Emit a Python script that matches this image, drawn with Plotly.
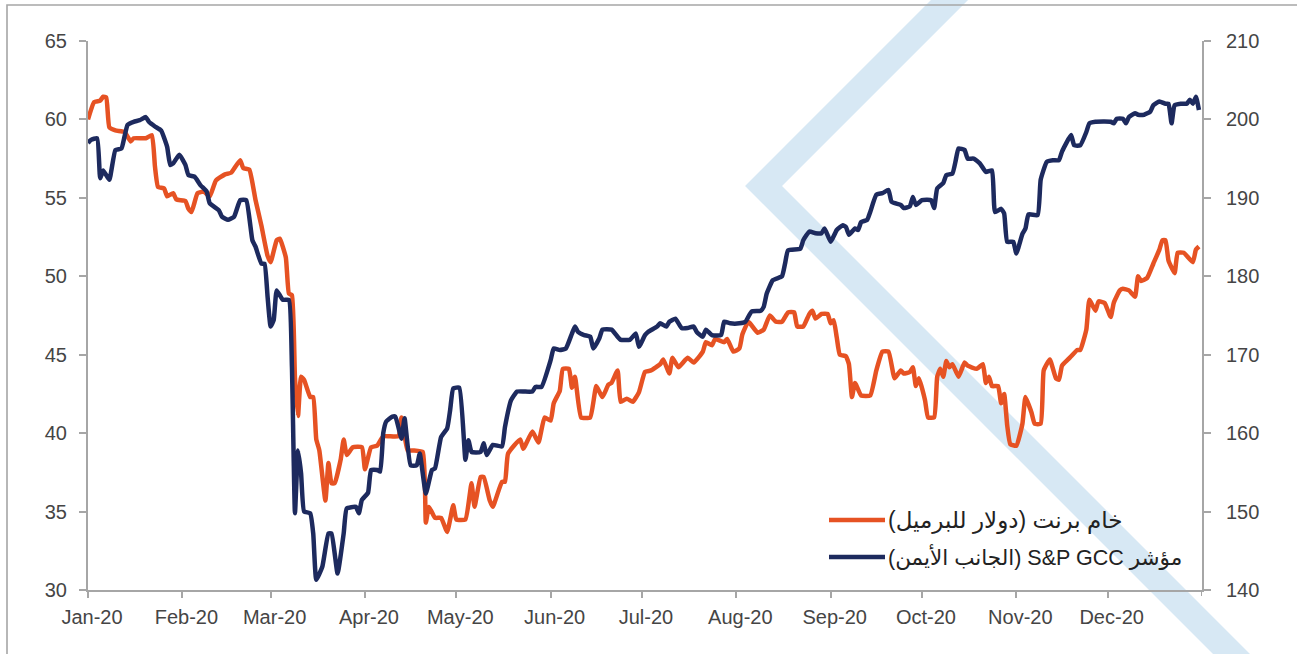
import pandas as pd
import plotly.graph_objects as go

# Brent crude (USD per barrel), sampled by day of 2020 (days since 1 Jan 2020)
brent_day = [0, 2, 4, 5, 6, 7, 9, 12, 14, 15, 19, 21, 22, 23, 25, 26, 28, 29, 32, 33, 34, 36, 38, 40, 42,
             45, 47, 50, 51, 53, 55, 57, 59, 60, 62, 63, 65, 66, 67, 68, 69, 70, 71, 73, 74, 75, 76, 78,
             79, 80, 81, 83, 84, 85, 87, 90, 91, 93, 95, 97, 102, 103, 105, 107, 110, 111, 112, 114,
             116, 118, 120, 121, 124, 126, 127, 129, 130, 132, 133, 136, 137, 138, 142, 143, 146, 148,
             150, 152, 153, 155, 156, 158, 159, 160, 162, 165, 167, 169, 171, 172, 174, 175, 177, 179,
             181, 183, 185, 188, 189, 191, 192, 194, 197, 199, 202, 203, 205, 206, 209, 210, 212, 214,
             215, 217, 220, 222, 224, 226, 228, 230, 232, 233, 235, 237, 238, 239, 241, 243, 244, 245,
             246, 247, 249, 250, 251, 252, 254, 257, 259, 261, 263, 265, 267, 268, 270, 271, 272, 273,
             275, 276, 278, 279, 280, 281, 282, 283, 284, 286, 288, 289, 292, 294, 295, 296, 297, 299,
             300, 301, 302, 303, 305, 307, 308, 310, 311, 313, 314, 316, 318, 319, 320, 322, 323, 325,
             326, 328, 329, 331, 332, 334, 336, 337, 339, 340, 342, 344, 345, 346, 348, 350, 352, 353,
             354, 355, 357, 358, 360, 363, 364, 365]
brent_usd = [60.0, 61.1, 61.2, 61.45, 61.4, 59.5, 59.3, 59.2, 58.6, 58.8, 58.8, 59.0, 57.0, 55.7, 55.6,
             55.1, 55.3, 54.9, 54.8, 54.3, 54.1, 55.3, 55.4, 55.1, 56.1, 56.5, 56.6, 57.4, 56.9, 56.8,
             54.9, 53.2, 51.3, 50.9, 52.3, 52.4, 51.2, 48.9, 48.8, 43.5, 41.1, 43.6, 43.4, 42.3, 42.3,
             39.6, 38.9, 35.7, 38.1, 36.8, 36.8, 38.3, 39.6, 38.6, 39.1, 39.1, 37.7, 39.1, 39.2, 39.8,
             39.8, 41.0, 38.9, 38.9, 38.8, 34.3, 35.3, 34.6, 34.6, 33.7, 35.4, 34.5, 34.5, 36.8, 35.3,
             37.2, 37.2, 35.7, 35.3, 36.9, 36.9, 38.7, 39.6, 39.0, 40.1, 39.4, 41.0, 40.8, 41.9, 42.7,
             44.1, 44.1, 42.9, 43.6, 41.0, 41.0, 43.0, 42.3, 43.1, 43.2, 44.0, 42.0, 42.2, 42.0, 42.6,
             43.9, 44.0, 44.4, 44.7, 43.8, 44.8, 44.2, 44.8, 44.5, 45.2, 45.8, 45.6, 46.0, 45.8, 46.0,
             45.2, 45.4, 46.3, 47.1, 46.4, 46.6, 47.5, 47.1, 47.1, 47.7, 47.7, 46.8, 46.8, 47.6, 47.8,
             47.3, 47.6, 47.6, 47.0, 47.2, 46.1, 45.0, 44.9, 44.4, 42.3, 43.2, 42.4, 42.4, 44.0, 45.2,
             45.2, 43.5, 44.0, 43.8, 43.9, 44.2, 43.0, 43.5, 42.1, 41.0, 41.0, 43.6, 44.1, 43.6, 44.6,
             44.2, 44.4, 43.6, 44.5, 44.3, 44.1, 44.4, 43.2, 43.6, 43.0, 43.0, 41.9, 42.5, 40.5, 39.3,
             39.2, 40.6, 42.3, 41.3, 40.6, 40.6, 44.0, 44.7, 43.5, 43.4, 44.3, 44.7, 44.9, 45.3, 45.3,
             46.6, 48.5, 47.8, 48.4, 48.3, 47.4, 48.3, 49.1, 49.2, 49.1, 48.7, 50.0, 49.7, 49.9, 50.8,
             51.7, 52.3, 52.3, 51.0, 50.2, 51.5, 51.5, 50.9, 51.7, 51.9]

# S&P GCC index level (right axis), sampled by day of 2020
gcc_day = [0, 1, 3, 4, 5, 7, 9, 11, 12, 13, 15, 17, 19, 20, 22, 24, 26, 27, 28, 30, 32, 33, 35, 37, 39,
           40, 43, 44, 46, 48, 50, 52, 54, 55, 57, 58, 59, 60, 61, 62, 64, 66, 67, 68, 69, 70, 71, 73,
           74, 75, 77, 79, 80, 82, 84, 85, 88, 89, 90, 92, 93, 95, 96, 97, 98, 100, 101, 103, 104, 106,
           108, 109, 111, 113, 114, 116, 118, 119, 120, 122, 124, 125, 126, 129, 130, 131, 133, 136,
           137, 139, 141, 146, 147, 149, 152, 153, 155, 157, 159, 160, 161, 163, 165, 166, 168, 169,
           172, 174, 175, 178, 180, 181, 183, 184, 187, 188, 190, 191, 193, 195, 197, 199, 200, 202,
           203, 205, 208, 209, 211, 214, 216, 218, 221, 222, 223, 225, 228, 229, 230, 234, 235, 237,
           239, 241, 242, 244, 246, 248, 249, 250, 252, 253, 254, 256, 257, 259, 261, 263, 264, 267,
           268, 270, 271, 272, 274, 277, 278, 279, 281, 282, 284, 285, 286, 288, 289, 291, 293, 295,
           297, 298, 300, 301, 302, 304, 305, 307, 308, 309, 312, 313, 315, 317, 319, 320, 323, 324,
           326, 328, 329, 331, 336, 337, 338, 340, 341, 342, 344, 345, 347, 349, 350, 352, 354, 355,
           356, 357, 359, 361, 362, 363, 364, 365]
gcc_index = [197.0, 197.4, 197.6, 192.5, 193.5, 192.3, 196.1, 196.3, 197.8, 199.3, 199.7, 199.9, 200.3,
             199.7, 199.1, 198.6, 196.5, 194.2, 194.4, 195.5, 194.2, 192.9, 192.7, 191.6, 190.8, 189.3,
             188.4, 187.6, 187.2, 187.6, 189.7, 189.7, 184.6, 183.8, 181.6, 181.6, 177.4, 173.6, 174.4,
             178.2, 177.0, 177.0, 168.5, 149.8, 157.8, 154.9, 150.0, 149.8, 147.2, 141.3, 143.0, 147.2,
             147.2, 142.1, 147.2, 150.4, 150.6, 149.8, 151.5, 152.4, 155.3, 155.3, 155.1, 160.0, 161.5,
             162.1, 162.1, 159.3, 161.9, 155.9, 155.9, 157.4, 152.3, 155.3, 155.5, 159.5, 160.6, 163.0,
             165.7, 165.8, 156.6, 159.1, 157.6, 157.6, 158.7, 157.2, 158.5, 158.3, 160.8, 164.2, 165.3,
             165.3, 165.9, 165.9, 169.3, 170.8, 170.6, 170.8, 172.7, 173.6, 172.9, 172.5, 172.3, 170.8,
             172.1, 173.2, 173.2, 172.3, 171.9, 171.9, 172.7, 171.0, 172.5, 172.9, 173.6, 174.0, 173.6,
             174.2, 174.6, 173.4, 173.4, 173.6, 172.9, 172.3, 173.2, 172.5, 172.5, 174.2, 174.0, 174.0,
             174.2, 175.5, 175.6, 176.1, 177.8, 179.5, 180.0, 181.6, 183.3, 183.5, 184.6, 185.7, 185.5,
             185.5, 186.1, 184.4, 185.9, 186.5, 186.3, 185.3, 186.1, 185.9, 186.9, 187.2, 188.2, 190.4,
             190.6, 191.0, 189.5, 189.1, 188.7, 188.9, 190.1, 189.1, 189.7, 189.7, 188.7, 191.2, 191.9,
             192.9, 193.1, 194.6, 196.3, 196.1, 195.0, 195.0, 194.4, 193.3, 193.5, 188.2, 188.6, 188.0,
             184.4, 184.4, 182.9, 185.4, 186.1, 187.9, 187.8, 192.3, 194.6, 194.8, 194.8, 195.9, 198.0,
             196.7, 196.7, 198.4, 199.5, 199.7, 199.7, 199.5, 200.1, 200.1, 199.5, 200.3, 200.8, 200.6,
             200.6, 201.0, 201.8, 202.3, 202.0, 202.0, 199.5, 201.8, 202.0, 202.0, 202.5, 202.0, 202.9,
             201.2]

month_starts = pd.date_range("2020-01-01", "2020-12-01", freq="MS")
month_labels = ["Jan-20", "Feb-20", "Mar-20", "Apr-20", "May-20", "Jun-20", "Jul-20",
                "Aug-20", "Sep-20", "Oct-20", "Nov-20", "Dec-20"]
x_end = "2021-01-01"

brent_label = "\u202bخام برنت (دولار للبرميل)\u202c"
gcc_label = "\u202bمؤشر S&P GCC (الجانب الأيمن)\u202c"

ORANGE = "#E65223"
NAVY = "#1D2A5E"
AXIS_GREY = "#A6A6A6"
TEXT = "#454545"
FONT = "Liberation Sans, Arial, DejaVu Sans, sans-serif"

origin = pd.Timestamp("2020-01-01")
brent_x = origin + pd.to_timedelta(brent_day, unit="D")
gcc_x = origin + pd.to_timedelta(gcc_day, unit="D")

fig = go.Figure()
fig.add_trace(go.Scatter(x=brent_x, y=brent_usd, mode="lines", name=brent_label,
                         line=dict(color=ORANGE, width=4.5, shape="spline", smoothing=0.4),
                         yaxis="y"))
fig.add_trace(go.Scatter(x=gcc_x, y=gcc_index, mode="lines", name=gcc_label,
                         line=dict(color=NAVY, width=4.5, shape="spline", smoothing=0.4),
                         yaxis="y2"))

# plot area geometry in pixels, used to place decorations in paper units
W, H = 1297, 654
L, R, T, B = 88, 95, 41, 64
PW, PH = W - L - R, H - T - B


def px(xp):
    return (xp - L) / PW


def py(yp):
    return (H - B - yp) / PH


# light-blue chevron in the background
chev = [(971, -40), (745, 186), (1259, 700), (1296, 700), (782, 186), (1008, -40)]
path = "M " + " L ".join(f"{px(a):.4f},{py(b):.4f}" for a, b in chev) + " Z"
shapes = [
    dict(type="path", xref="paper", yref="paper", path=path, fillcolor="#D7E8F4",
         line=dict(width=0), layer="below"),
    # outer frame
    dict(type="rect", xref="paper", yref="paper", x0=px(7), x1=px(1310), y0=py(670), y1=py(5),
         line=dict(color=AXIS_GREY, width=1.6), fillcolor="rgba(0,0,0,0)", layer="below"),
    # closing tick at the end of the date axis
    dict(type="line", xref="x", yref="paper", x0=x_end, x1=x_end, y0=0, y1=py(596),
         line=dict(color=AXIS_GREY, width=2)),
    # legend keys
    dict(type="line", xref="paper", yref="paper", x0=px(829), x1=px(885), y0=py(520), y1=py(520),
         line=dict(color=ORANGE, width=4.5)),
    dict(type="line", xref="paper", yref="paper", x0=px(829), x1=px(885), y0=py(557), y1=py(557),
         line=dict(color=NAVY, width=4.5)),
]
annotations = [
    dict(xref="paper", yref="paper", x=px(886), y=py(520), xanchor="left", yanchor="middle",
         text=brent_label, showarrow=False, font=dict(family=FONT, size=23, color="#222222")),
    dict(xref="paper", yref="paper", x=px(886), y=py(557), xanchor="left", yanchor="middle",
         text=gcc_label, showarrow=False, font=dict(family=FONT, size=21.5, color="#222222")),
]

axis_common = dict(showgrid=False, zeroline=False, showline=True, linecolor=AXIS_GREY, linewidth=2,
                   ticks="outside", ticklen=7, tickwidth=2, tickcolor=AXIS_GREY,
                   tickfont=dict(family=FONT, size=20, color=TEXT))

fig.update_layout(
    width=W, height=H,
    margin=dict(l=L, r=R, t=T, b=B, pad=0),
    paper_bgcolor="white", plot_bgcolor="rgba(0,0,0,0)",
    showlegend=False,
    xaxis=dict(axis_common, type="date", range=["2020-01-01", x_end],
               tickvals=month_starts, ticktext=month_labels, ticklen=6, ticklabelshift=4,
               ticklabelstandoff=2),
    yaxis=dict(axis_common, range=[30, 65], dtick=5, tick0=30, ticklabelstandoff=8),
    yaxis2=dict(axis_common, range=[140, 210], dtick=10, tick0=140, overlaying="y", side="right",
                ticklabelstandoff=11),
    shapes=shapes,
    annotations=annotations,
)

fig.write_html("out.html")
